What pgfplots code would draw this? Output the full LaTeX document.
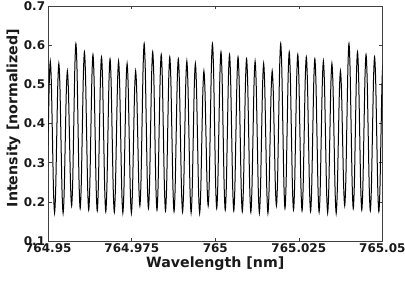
\documentclass[border=0pt]{standalone}
\usepackage{fontspec}
\setmainfont{DejaVu Sans}
\usepackage{pgfplots}
\usepackage{pgfplotstable}
\pgfplotsset{compat=1.18}
% x column: wavelength offset from 764.95 nm, in pm, i.e. (lambda - 764.95 nm)*1000
\pgfplotstableread[row sep=\\]{
x y \\
-0.997 0.2313 \\ -0.677 0.174 \\ -0.358 0.2304 \\ -0.039 0.3665 \\ 0.281 0.5026 \\
0.6 0.559 \\ 0.919 0.5023 \\ 1.239 0.3655 \\ 1.558 0.2287 \\ 1.878 0.172 \\ 2.197 0.2278 \\ 2.516 0.3625 \\ 2.836 0.4972 \\
3.155 0.553 \\ 3.474 0.4971 \\ 3.794 0.362 \\ 4.113 0.2269 \\ 4.433 0.171 \\ 4.752 0.2242 \\ 5.071 0.3525 \\ 5.391 0.4808 \\
5.71 0.534 \\ 6.029 0.4836 \\ 6.349 0.362 \\ 6.668 0.2404 \\ 6.988 0.190 \\ 7.307 0.2506 \\ 7.626 0.397 \\ 7.946 0.5434 \\
8.265 0.604 \\ 8.584 0.5423 \\ 8.904 0.3935 \\ 9.223 0.2447 \\ 9.543 0.183 \\ 9.862 0.2416 \\ 10.181 0.383 \\ 10.501 0.5244 \\
10.82 0.583 \\ 11.139 0.5238 \\ 11.459 0.381 \\ 11.778 0.2382 \\ 12.098 0.179 \\ 12.417 0.2371 \\ 12.736 0.3775 \\ 13.056 0.5179 \\
13.375 0.576 \\ 13.694 0.5176 \\ 14.014 0.3765 \\ 14.333 0.2354 \\ 14.653 0.177 \\ 14.972 0.2346 \\ 15.291 0.3735 \\ 15.611 0.5124 \\
15.93 0.570 \\ 16.249 0.5122 \\ 16.569 0.3725 \\ 16.888 0.2328 \\ 17.208 0.175 \\ 17.527 0.2321 \\ 17.846 0.370 \\ 18.166 0.5079 \\
18.485 0.565 \\ 18.804 0.5077 \\ 19.124 0.3695 \\ 19.443 0.2313 \\ 19.763 0.174 \\ 20.082 0.2304 \\ 20.401 0.3665 \\ 20.721 0.5026 \\
21.04 0.559 \\ 21.359 0.5023 \\ 21.679 0.3655 \\ 21.998 0.2287 \\ 22.318 0.172 \\ 22.637 0.2278 \\ 22.956 0.3625 \\ 23.276 0.4972 \\
23.595 0.553 \\ 23.914 0.4971 \\ 24.234 0.362 \\ 24.553 0.2269 \\ 24.873 0.171 \\ 25.192 0.2242 \\ 25.511 0.3525 \\ 25.831 0.4808 \\
26.15 0.534 \\ 26.469 0.4836 \\ 26.789 0.362 \\ 27.108 0.2404 \\ 27.428 0.190 \\ 27.747 0.2506 \\ 28.066 0.397 \\ 28.386 0.5434 \\
28.705 0.604 \\ 29.024 0.5423 \\ 29.344 0.3935 \\ 29.663 0.2447 \\ 29.983 0.183 \\ 30.302 0.2416 \\ 30.621 0.383 \\ 30.941 0.5244 \\
31.26 0.583 \\ 31.579 0.5238 \\ 31.899 0.381 \\ 32.218 0.2382 \\ 32.538 0.179 \\ 32.857 0.2371 \\ 33.176 0.3775 \\ 33.496 0.5179 \\
33.815 0.576 \\ 34.134 0.5176 \\ 34.454 0.3765 \\ 34.773 0.2354 \\ 35.093 0.177 \\ 35.412 0.2346 \\ 35.731 0.3735 \\ 36.051 0.5124 \\
36.37 0.570 \\ 36.689 0.5122 \\ 37.009 0.3725 \\ 37.328 0.2328 \\ 37.648 0.175 \\ 37.967 0.2321 \\ 38.286 0.370 \\ 38.606 0.5079 \\
38.925 0.565 \\ 39.244 0.5077 \\ 39.564 0.3695 \\ 39.883 0.2313 \\ 40.203 0.174 \\ 40.522 0.2304 \\ 40.841 0.3665 \\ 41.161 0.5026 \\
41.48 0.559 \\ 41.799 0.5023 \\ 42.119 0.3655 \\ 42.438 0.2287 \\ 42.758 0.172 \\ 43.077 0.2278 \\ 43.396 0.3625 \\ 43.716 0.4972 \\
44.035 0.553 \\ 44.354 0.4971 \\ 44.674 0.362 \\ 44.993 0.2269 \\ 45.313 0.171 \\ 45.632 0.2242 \\ 45.951 0.3525 \\ 46.271 0.4808 \\
46.59 0.534 \\ 46.909 0.4836 \\ 47.229 0.362 \\ 47.548 0.2404 \\ 47.868 0.190 \\ 48.187 0.2506 \\ 48.506 0.397 \\ 48.826 0.5434 \\
49.145 0.604 \\ 49.464 0.5423 \\ 49.784 0.3935 \\ 50.103 0.2447 \\ 50.423 0.183 \\ 50.742 0.2416 \\ 51.061 0.383 \\ 51.381 0.5244 \\
51.7 0.583 \\ 52.019 0.5238 \\ 52.339 0.381 \\ 52.658 0.2382 \\ 52.978 0.179 \\ 53.297 0.2371 \\ 53.616 0.3775 \\ 53.936 0.5179 \\
54.255 0.576 \\ 54.574 0.5176 \\ 54.894 0.3765 \\ 55.213 0.2354 \\ 55.533 0.177 \\ 55.852 0.2346 \\ 56.171 0.3735 \\ 56.491 0.5124 \\
56.81 0.570 \\ 57.129 0.5122 \\ 57.449 0.3725 \\ 57.768 0.2328 \\ 58.088 0.175 \\ 58.407 0.2321 \\ 58.726 0.370 \\ 59.046 0.5079 \\
59.365 0.565 \\ 59.684 0.5077 \\ 60.004 0.3695 \\ 60.323 0.2313 \\ 60.643 0.174 \\ 60.962 0.2304 \\ 61.281 0.3665 \\ 61.601 0.5026 \\
61.92 0.559 \\ 62.239 0.5023 \\ 62.559 0.3655 \\ 62.878 0.2287 \\ 63.198 0.172 \\ 63.517 0.2278 \\ 63.836 0.3625 \\ 64.156 0.4972 \\
64.475 0.553 \\ 64.794 0.4971 \\ 65.114 0.362 \\ 65.433 0.2269 \\ 65.753 0.171 \\ 66.072 0.2242 \\ 66.391 0.3525 \\ 66.711 0.4808 \\
67.03 0.534 \\ 67.349 0.4836 \\ 67.669 0.362 \\ 67.988 0.2404 \\ 68.308 0.190 \\ 68.627 0.2506 \\ 68.946 0.397 \\ 69.266 0.5434 \\
69.585 0.604 \\ 69.904 0.5423 \\ 70.224 0.3935 \\ 70.543 0.2447 \\ 70.863 0.183 \\ 71.182 0.2416 \\ 71.501 0.383 \\ 71.821 0.5244 \\
72.14 0.583 \\ 72.459 0.5238 \\ 72.779 0.381 \\ 73.098 0.2382 \\ 73.418 0.179 \\ 73.737 0.2371 \\ 74.056 0.3775 \\ 74.376 0.5179 \\
74.695 0.576 \\ 75.014 0.5176 \\ 75.334 0.3765 \\ 75.653 0.2354 \\ 75.973 0.177 \\ 76.292 0.2346 \\ 76.611 0.3735 \\ 76.931 0.5124 \\
77.25 0.570 \\ 77.569 0.5122 \\ 77.889 0.3725 \\ 78.208 0.2328 \\ 78.528 0.175 \\ 78.847 0.2321 \\ 79.166 0.370 \\ 79.486 0.5079 \\
79.805 0.565 \\ 80.124 0.5077 \\ 80.444 0.3695 \\ 80.763 0.2313 \\ 81.083 0.174 \\ 81.402 0.2304 \\ 81.721 0.3665 \\ 82.041 0.5026 \\
82.36 0.559 \\ 82.679 0.5023 \\ 82.999 0.3655 \\ 83.318 0.2287 \\ 83.638 0.172 \\ 83.957 0.2278 \\ 84.276 0.3625 \\ 84.596 0.4972 \\
84.915 0.553 \\ 85.234 0.4971 \\ 85.554 0.362 \\ 85.873 0.2269 \\ 86.193 0.171 \\ 86.512 0.2242 \\ 86.831 0.3525 \\ 87.151 0.4808 \\
87.47 0.534 \\ 87.789 0.4836 \\ 88.109 0.362 \\ 88.428 0.2404 \\ 88.748 0.190 \\ 89.067 0.2506 \\ 89.386 0.397 \\ 89.706 0.5434 \\
90.025 0.604 \\ 90.344 0.5423 \\ 90.664 0.3935 \\ 90.983 0.2447 \\ 91.303 0.183 \\ 91.622 0.2416 \\ 91.941 0.383 \\ 92.261 0.5244 \\
92.58 0.583 \\ 92.899 0.5238 \\ 93.219 0.381 \\ 93.538 0.2382 \\ 93.858 0.179 \\ 94.177 0.2371 \\ 94.496 0.3775 \\ 94.816 0.5179 \\
95.135 0.576 \\ 95.454 0.5176 \\ 95.774 0.3765 \\ 96.093 0.2354 \\ 96.413 0.177 \\ 96.732 0.2346 \\ 97.051 0.3735 \\ 97.371 0.5124 \\
97.69 0.570 \\ 98.009 0.5122 \\ 98.329 0.3725 \\ 98.648 0.2328 \\ 98.968 0.175 \\ 99.287 0.2321 \\ 99.606 0.370 \\ 99.926 0.5079 \\
100.245 0.565 \\
}\spectrum
\begin{document}
\begin{tikzpicture}
\begin{axis}[
  name=ax,
  scale only axis,
  width=334pt, height=235pt,
  xmin=0, xmax=100, ymin=0.1, ymax=0.7,
  xtick={0,25,50,75,100},
  xticklabels={764.95,764.975,765,765.025,765.05},
  ytick={0.1,0.2,0.3,0.4,0.5,0.6,0.7},
  yticklabels={0.1,0.2,0.3,0.4,0.5,0.6,0.7},
  tick align=inside,
  major tick length=3.3pt,
  axis line style={black!75, line width=0.6pt},
  every tick/.style={black!75, line width=0.6pt},
  /pgf/number format/assume math mode=true,
  ticklabel style={font=\bfseries\fontsize{12}{12}\selectfont, text=black!90},
  xticklabel style={inner ysep=0pt, yshift=-2.5pt},
  yticklabel style={inner xsep=0pt, xshift=-3pt},
  xlabel={Wavelength [nm]},
  ylabel={Intensity [normalized]},
  label style={font=\bfseries\fontsize{14.2}{14.2}\selectfont, text=black!90},
  xlabel style={at={(axis description cs:0.5,-0.1149)}, anchor=base},
  ylabel style={at={(axis description cs:-0.0928,0.523)}, anchor=base, rotate=0},
]
\addplot[black, line width=1.0pt, smooth] table[x=x, y=y] {\spectrum};
\end{axis}
\pgfresetboundingbox
\path[use as bounding box] ([xshift=-48.3pt,yshift=-45pt]ax.south west) rectangle ([xshift=22.7pt,yshift=6pt]ax.north east);
\end{tikzpicture}
\end{document}
